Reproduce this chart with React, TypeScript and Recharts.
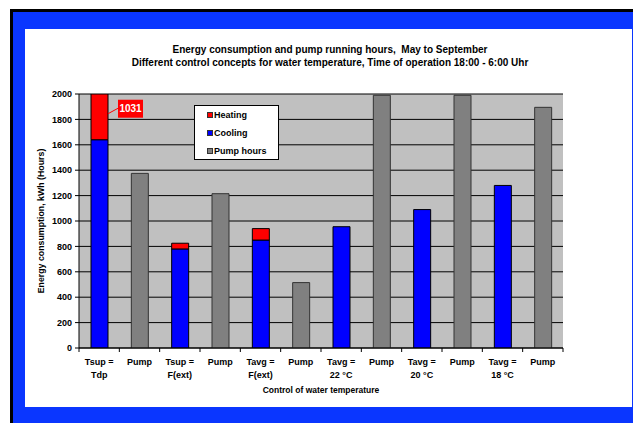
import React from 'react';
import { BarChart, Bar, XAxis, YAxis, CartesianGrid, Legend, LabelList } from 'recharts';

const categoryLine1 = ['Tsup =', 'Pump', 'Tsup =', 'Pump', 'Tavg =', 'Pump', 'Tavg =', 'Pump', 'Tavg =', 'Pump', 'Tavg =', 'Pump'];
const categoryLine2 = ['Tdp', '', 'F(ext)', '', 'F(ext)', '', '22 °C', '', '20 °C', '', '18 °C', ''];
const coolingKWh = [1640, null, 780, null, 850, null, 955, null, 1090, null, 1280, null];
const heatingKWh = [1031, null, 45, null, 90, null, null, null, null, null, null, null];
const pumpHours = [null, 1375, null, 1215, null, 515, null, 1990, null, 1990, null, 1895];
const yTicks = [0, 200, 400, 600, 800, 1000, 1200, 1400, 1600, 1800, 2000];
const legendOrder = ['heating', 'cooling', 'pump'];

const FONT = "Arial, 'Liberation Sans', sans-serif";

const data = categoryLine1.map((l1, i) => ({
  key: 'c' + i,
  cooling: coolingKWh[i],
  heating: heatingKWh[i],
  pump: pumpHours[i],
}));

const XTick = (props: any) => {
  const { x, y, payload, width } = props;
  const i = payload.index;
  const n = categoryLine1.length;
  const off = payload.offset && payload.offset > 1 ? payload.offset : width / n / 2;
  const last = i === n - 1;
  return (
    <g>
      <line x1={x - off} x2={x - off} y1={y} y2={y + 4} stroke="#000" />
      {last && <line x1={x + off} x2={x + off} y1={y} y2={y + 4} stroke="#000" />}
      <text x={x} y={y + 17} textAnchor="middle" fontFamily={FONT} fontWeight="bold" fontSize={9} fill="#000">
        {categoryLine1[i]}
      </text>
      {categoryLine2[i] && (
        <text x={x} y={y + 29.5} textAnchor="middle" fontFamily={FONT} fontWeight="bold" fontSize={9} fill="#000">
          {categoryLine2[i]}
        </text>
      )}
    </g>
  );
};

const HeatLabel = (props: any) => {
  const { x, y, width, height, index, value } = props;
  if (index !== 0) return null;
  const bx = x + width + 10;
  const by = y + height - 40;
  return (
    <g>
      <line x1={x + width} y1={by + 14} x2={bx + 1} y2={by + 8} stroke="#FF0000" strokeWidth={1} />
      <rect x={bx} y={by} width={25} height={18} fill="#FF0000" />
      <text x={bx + 12.5} y={by + 12.5} textAnchor="middle" fontFamily={FONT} fontWeight="bold" fontSize={10} fill="#fff">
        {value}
      </text>
    </g>
  );
};

const colors: Record<string, string> = { heating: '#FF0000', cooling: '#0000FF', pump: '#808080' };

const renderLegend = (props: any) => {
  const payload = props.payload || [];
  const items = legendOrder
    .map((k) => payload.find((p: any) => p.dataKey === k))
    .filter(Boolean);
  return (
    <div
      style={{
        width: 85,
        height: 55,
        boxSizing: 'border-box',
        border: '1px solid #000',
        background: '#fff',
        fontFamily: FONT,
        fontWeight: 'bold',
        fontSize: 9,
        color: '#000',
      }}
    >
      {items.map((p: any) => (
        <div key={p.dataKey} style={{ height: 18, display: 'flex', alignItems: 'center', position: 'relative' }}>
          <span
            style={{
              position: 'absolute',
              left: 12,
              top: 6,
              width: 6,
              height: 6,
              boxSizing: 'border-box',
              border: '1px solid #333',
              background: colors[p.dataKey],
            }}
          />
          <span style={{ position: 'absolute', left: 19, top: 3, lineHeight: '12px' }}>{p.value}</span>
        </div>
      ))}
    </div>
  );
};

export default function App() {
  return (
    <div style={{ position: 'relative', width: 633, height: 415, fontFamily: FONT }}>
      <div style={{ position: 'absolute', left: 2, top: 1, right: 0, bottom: 0, background: '#000' }} />
      <div style={{ position: 'absolute', left: 5, top: 4, right: 0, bottom: 0, background: '#0A36FF' }} />
      <div style={{ position: 'absolute', left: 17, top: 21, width: 607, height: 378, background: '#fff' }} />
      <div
        style={{
          position: 'absolute',
          left: 17,
          top: 34.5,
          width: 610,
          textAlign: 'center',
          fontWeight: 'bold',
          fontSize: 10,
          lineHeight: '13px',
          color: '#000',
        }}
      >
        <div>Energy consumption and pump running hours,&nbsp; May to September</div>
        <div>Different control concepts for water temperature, Time of operation 18:00 - 6:00 Uhr</div>
      </div>
      <div
        style={{
          position: 'absolute',
          left: 213,
          top: 377,
          width: 200,
          textAlign: 'center',
          fontWeight: 'bold',
          fontSize: 8.5,
          lineHeight: '10px',
          color: '#000',
        }}
      >
        Control of water temperature
      </div>
      <div style={{ position: 'absolute', left: 0, top: 0 }}>
        <BarChart
          width={633}
          height={415}
          data={data}
          margin={{ top: 86, right: 78, bottom: 30, left: 21 }}
          barSize={17}
        >
          <CartesianGrid vertical={false} stroke="#000" fill="#C0C0C0" fillOpacity={1} />
          <XAxis
            dataKey="key"
            height={45}
            axisLine={{ stroke: '#000' }}
            tickLine={false}
            tickSize={0}
            tickMargin={0}
            interval={0}
            tick={<XTick />}
          />
          <YAxis
            width={50}
            domain={[0, 2000]}
            ticks={yTicks}
            allowDataOverflow
            axisLine={{ stroke: '#000' }}
            tickLine={{ stroke: '#000' }}
            tickSize={4}
            tickMargin={3}
            tick={{ fontFamily: FONT, fontWeight: 'bold', fontSize: 9, fill: '#000' }}
            label={(p: any) => {
              const vb = p.viewBox;
              const cx = vb.x + 12;
              const cy = vb.y + vb.height / 2;
              return (
                <text
                  x={cx}
                  y={cy}
                  transform={`rotate(-90 ${cx} ${cy})`}
                  textAnchor="middle"
                  dominantBaseline="central"
                  fontFamily={FONT}
                  fontWeight="bold"
                  fontSize={8.8}
                  fill="#000"
                >
                  Energy consumption, kWh (Hours)
                </text>
              );
            }}
          />
          <Legend
            layout="horizontal"
            verticalAlign="middle"
            align="center"
            content={renderLegend}
            wrapperStyle={{ position: 'absolute', left: 186, top: 97, width: 85, height: 55 }}
          />
          <Bar dataKey="cooling" name="Cooling" stackId="a" fill="#0000FF" stroke="#000" strokeWidth={1} isAnimationActive={false} />
          <Bar dataKey="heating" name="Heating" stackId="a" fill="#FF0000" stroke="#000" strokeWidth={1} isAnimationActive={false}>
            <LabelList dataKey="heating" content={<HeatLabel />} />
          </Bar>
          <Bar dataKey="pump" name="Pump hours" stackId="a" fill="#808080" stroke="#333" strokeWidth={1} isAnimationActive={false} />
        </BarChart>
      </div>
    </div>
  );
}
